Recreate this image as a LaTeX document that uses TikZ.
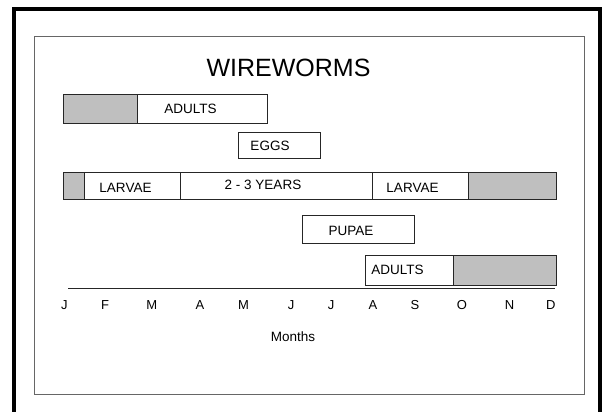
\documentclass[tikz,border=0pt]{standalone}
\usepackage{fontspec}
\setmainfont{Liberation Sans}
\begin{document}
\begin{tikzpicture}[x=1pt,y=-1pt,
  bar/.style={draw=black!85,line width=1pt,fill=white},
  shade/.style={draw=black!85,line width=1pt,fill=black!25},
  lbl/.style={inner sep=0pt,font=\fontsize{13.5}{16}\selectfont},
  mon/.style={inner sep=0pt,font=\fontsize{13}{16}\selectfont}]
\useasboundingbox (0,0) rectangle (605,412);
% outer frame (open at bottom)
\draw[line width=4pt] (14,416) -- (14,9) -- (600,9) -- (600,416);
% inner frame
\draw[line width=1pt,draw=black!60] (34,36.5) rectangle (584.5,394.5);
% title
\node[inner sep=0pt,font=\fontsize{25}{30}\selectfont] (title) at (288.5,68.3) {WIREWORMS};
% row 1: adults
\draw[shade] (63.5,94.5) rectangle (137,123.5);
\draw[bar] (137,94.5) rectangle (267.5,123.5);
\node[lbl] (adults1) at (190.5,109.3) {ADULTS};
% row 2: eggs
\draw[bar] (238.5,132.5) rectangle (320,158);
\node[lbl] (eggs) at (270,146) {EGGS};
% row 3: larvae
\draw[shade] (63.5,172.5) rectangle (84.5,199);
\draw[bar] (84.5,172.5) rectangle (180.5,199);
\draw[bar] (180.5,172.5) rectangle (372,199);
\draw[bar] (372,172.5) rectangle (468,199);
\draw[shade] (468,172.5) rectangle (556.5,199);
\node[lbl] (larvae1) at (125.5,188) {LARVAE};
\node[lbl] (years) at (263,184.5) {2 - 3 YEARS};
\node[lbl] (larvae2) at (412.5,188) {LARVAE};
% row 4: pupae
\draw[bar] (302.5,215.5) rectangle (414,243);
\node[lbl] (pupae) at (351,230.5) {PUPAE};
% row 5: adults
\draw[bar] (365.5,255) rectangle (453,285);
\draw[shade] (453,255) rectangle (556.5,285);
\node[lbl] (adults2) at (397.5,270.3) {ADULTS};
% axis
\coordinate (axl) at (68,288.5);
\coordinate (axr) at (554.5,288.5);
\draw[line width=1pt,draw=black!85] (axl) -- (axr);
\node[mon] (mJ) at (64.3,304.6) {J};
\node[mon] (mF) at (105,304.6) {F};
\node[mon] (mM) at (151.8,304.6) {M};
\node[mon] (mA) at (200,304.6) {A};
\node[mon] (mMy) at (243.6,304.6) {M};
\node[mon] (mJn) at (291,304.6) {J};
\node[mon] (mJl) at (331,304.6) {J};
\node[mon] (mAu) at (372.9,304.6) {A};
\node[mon] (mS) at (415,304.6) {S};
\node[mon] (mO) at (462,304.6) {O};
\node[mon] (mN) at (509.6,304.6) {N};
\node[mon] (mD) at (550.7,304.6) {D};
\node[lbl] (months) at (292.9,336.5) {Months};
\end{tikzpicture}
\end{document}
